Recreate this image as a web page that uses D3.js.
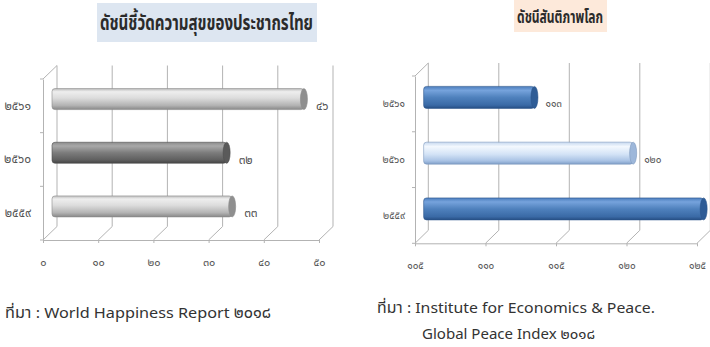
<!DOCTYPE html>
<html>
<head>
<meta charset="utf-8">
<script src="https://cdn.jsdelivr.net/npm/d3@7"></script>
<style>
  body { margin: 0; background: #fff; }
  svg { display: block; }
  text { font-family: "Noto Sans Thai", "Noto Sans", "DejaVu Sans", sans-serif; }
</style>
</head>
<body>
<svg id="chart" width="710" height="347"></svg>
<script>
// Years, top to bottom as drawn
var years = ["๒๕๖๑", "๒๕๖๐", "๒๕๕๙"];

// Happiness rank (World Happiness Report)
var happinessValues = [46, 32, 33];
var happinessTicks = [0, 10, 20, 30, 40, 50];

// Global Peace Index rank
var peaceValues = [113, 120, 125];
var peaceTicks = [105, 110, 115, 120, 125];

var W = 710;
var svg = d3.select("#chart");
var defs = svg.append("defs");

// Arabic digits -> Thai digits
function thai_digits(n) {
  var th = "๐๑๒๓๔๕๖๗๘๙";
  return String(n).replace(/[0-9]/g, function (c) { return th[+c]; });
}

function add_gradient(id, stops) {
  var g = defs.append("linearGradient")
              .attr("id", id)
              .attr("x1", 0).attr("y1", 0)
              .attr("x2", 0).attr("y2", 1);
  stops.forEach(function (s) {
    g.append("stop").attr("offset", s[0]).attr("stop-color", s[1]);
  });
}

add_gradient("g-light", [[0, "#bdbdbd"], [0.15, "#eeeeee"], [0.45, "#dcdcdc"], [0.8, "#b3b3b3"], [1, "#888"]]);
add_gradient("g-dark", [[0, "#8c8c8c"], [0.18, "#a9a9a9"], [0.5, "#7c7c7c"], [0.85, "#5e5e5e"], [1, "#444"]]);
add_gradient("g-blue", [[0, "#4a7cbc"], [0.18, "#76a3dc"], [0.5, "#4f81bd"], [0.85, "#3a6aa6"], [1, "#264e84"]]);
add_gradient("g-pale", [[0, "#c6d8ef"], [0.2, "#f3f8fe"], [0.55, "#d3e3f6"], [0.85, "#a8c2e4"], [1, "#7f9ec8"]]);

// Draws one 3D-ish bar chart (floor, back wall, left wall, cylinders)
function draw_chart(opt) {
  var g = svg.append("g");
  var x = d3.scaleLinear().domain(opt.domain).range(opt.xRange);
  var y = d3.scaleBand().domain(years).range(opt.yRange).paddingInner(0).paddingOuter(0);
  var dx = opt.depth[0], dy = opt.depth[1];
  var x0 = opt.xRange[0];
  var yTop = opt.yRange[0], yBot = opt.yRange[1];
  var wallTop = yTop + dy;
  var grid = "#b3b3b3";

  // back wall verticals
  g.selectAll("line.back")
   .data(opt.ticks)
   .enter().append("line")
   .attr("class", "back")
   .attr("x1", function (d) { return x(d) + dx; })
   .attr("x2", function (d) { return x(d) + dx; })
   .attr("y1", yBot + dy)
   .attr("y2", wallTop)
   .attr("stroke", grid);

  // floor diagonals
  g.selectAll("line.floor")
   .data(opt.ticks)
   .enter().append("line")
   .attr("class", "floor")
   .attr("x1", function (d) { return x(d); })
   .attr("x2", function (d) { return x(d) + dx; })
   .attr("y1", yBot)
   .attr("y2", yBot + dy)
   .attr("stroke", grid);

  // left wall top diagonal
  g.append("line")
   .attr("x1", x0).attr("y1", yTop)
   .attr("x2", x0 + dx).attr("y2", wallTop)
   .attr("stroke", grid);

  // front floor axis
  var xAxis = d3.axisBottom(x)
                .tickValues(opt.ticks)
                .tickSize(3)
                .tickSizeOuter(0)
                .tickFormat(thai_digits);
  var ax = g.append("g")
            .attr("transform", "translate(0," + yBot + ")")
            .call(xAxis);
  ax.select(".domain").attr("stroke", grid);
  ax.selectAll(".tick line").attr("stroke", grid);
  ax.selectAll(".tick text")
    .attr("y", opt.xLabelDy)
    .attr("fill", "#555")
    .style("font-size", opt.tickFont + "px");

  // left axis with labels at band centres
  var yAxis = d3.axisLeft(y).tickSize(0).tickPadding(opt.yPad);
  var ay = g.append("g")
            .attr("transform", "translate(" + x0 + ",0)")
            .call(yAxis);
  ay.select(".domain").attr("stroke", grid);
  ay.selectAll(".tick text")
    .attr("fill", "#555")
    .style("font-size", opt.yFont + "px");

  // category boundary ticks
  var bounds = years.map(function (d) { return y(d); }).concat([yBot]);
  g.selectAll("line.ytick")
   .data(bounds)
   .enter().append("line")
   .attr("class", "ytick")
   .attr("x1", x0 - 3).attr("x2", x0)
   .attr("y1", function (d) { return d; })
   .attr("y2", function (d) { return d; })
   .attr("stroke", grid);

  // bars as cylinders at mid depth
  var bh = opt.barH;
  var bars = g.selectAll("g.bar")
              .data(opt.values)
              .enter().append("g")
              .attr("class", "bar")
              .attr("transform", function (d, i) {
                var cy = y(years[i]) + y.bandwidth() / 2 + dy / 2;
                return "translate(" + (dx / 2) + "," + (cy - bh / 2) + ")";
              });

  bars.append("rect")
      .attr("x", x0 + 2)
      .attr("y", 0)
      .attr("width", function (d) { return Math.max(0, x(d) - x0 - 2); })
      .attr("height", bh)
      .attr("rx", 3)
      .attr("fill", function (d, i) { return "url(#" + opt.fills[i] + ")"; })
      .attr("stroke", function (d, i) { return opt.strokes[i]; })
      .attr("stroke-width", 0.6);

  bars.append("ellipse")
      .attr("cx", function (d) { return x(d); })
      .attr("cy", bh / 2)
      .attr("rx", 3.5)
      .attr("ry", bh / 2)
      .attr("fill", function (d, i) { return opt.caps[i]; })
      .attr("stroke", function (d, i) { return opt.strokes[i]; })
      .attr("stroke-width", 0.6);

  // value labels (the one past the right edge is not shown in the source either)
  var vals = opt.values.map(function (v, i) { return { v: v, i: i }; })
                       .filter(function (d) { return x(d.v) + dx / 2 + opt.valPad + 20 < W; });
  g.selectAll("text.val")
   .data(vals)
   .enter().append("text")
   .attr("class", "val")
   .attr("x", function (d) { return x(d.v) + dx / 2 + opt.valPad; })
   .attr("y", function (d) { return y(years[d.i]) + y.bandwidth() / 2; })
   .attr("dy", "0.35em")
   .attr("fill", "#555")
   .style("font-size", opt.valFont + "px")
   .text(function (d) { return thai_digits(d.v); });
}

draw_chart({
  domain: [0, 50],
  ticks: happinessTicks,
  values: happinessValues,
  xRange: [43, 319],
  yRange: [79, 240],
  depth: [14, -13.5],
  barH: 21,
  fills: ["g-light", "g-dark", "g-light"],
  caps: ["#8f8f8f", "#5a5a5a", "#8f8f8f"],
  strokes: ["#8a8a8a", "#4f4f4f", "#8a8a8a"],
  tickFont: 11,
  yFont: 12,
  yPad: 12,
  valFont: 12,
  valPad: 12,
  xLabelDy: 18
});

draw_chart({
  domain: [105, 125],
  ticks: peaceTicks,
  values: peaceValues,
  xRange: [415, 697],
  yRange: [76, 243.3],
  depth: [13.3, -13],
  barH: 22,
  fills: ["g-blue", "g-pale", "g-blue"],
  caps: ["#2e5c96", "#9db7da", "#2e5c96"],
  strokes: ["#2c568c", "#7d98bd", "#2c568c"],
  tickFont: 10,
  yFont: 10,
  yPad: 10,
  valFont: 10,
  valPad: 11,
  xLabelDy: 19
});

// titles
svg.append("rect").attr("x", 97).attr("y", 3).attr("width", 220).attr("height", 39).attr("fill", "#dde6f1");
svg.append("text")
   .attr("x", 100).attr("y", 23).attr("dy", "0.35em")
   .attr("textLength", 213).attr("lengthAdjust", "spacingAndGlyphs")
   .attr("fill", "#2b2b2b")
   .style("font-size", "21px").style("font-weight", "bold")
   .text("ดัชนีชี้วัดความสุขของประชากรไทย");

svg.append("rect").attr("x", 514).attr("y", 0).attr("width", 93).attr("height", 32).attr("fill", "#fde9da");
svg.append("text")
   .attr("x", 517).attr("y", 17).attr("dy", "0.35em")
   .attr("textLength", 86).attr("lengthAdjust", "spacingAndGlyphs")
   .attr("fill", "#2b2b2b")
   .style("font-size", "17px").style("font-weight", "bold")
   .text("ดัชนีสันติภาพโลก");

// sources
svg.append("text")
   .attr("x", 5).attr("y", 313).attr("dy", "0.35em")
   .attr("textLength", 266).attr("lengthAdjust", "spacingAndGlyphs")
   .attr("fill", "#333")
   .style("font-size", "15px")
   .text("ที่มา : World Happiness Report ๒๐๑๘");

svg.append("text")
   .attr("x", 377).attr("y", 308).attr("dy", "0.35em")
   .attr("textLength", 278).attr("lengthAdjust", "spacingAndGlyphs")
   .attr("fill", "#333")
   .style("font-size", "15px")
   .text("ที่มา : Institute for Economics & Peace.");

svg.append("text")
   .attr("x", 422).attr("y", 334).attr("dy", "0.35em")
   .attr("textLength", 173).attr("lengthAdjust", "spacingAndGlyphs")
   .attr("fill", "#333")
   .style("font-size", "14px")
   .text("Global Peace Index ๒๐๑๘");
</script>
</body>
</html>
